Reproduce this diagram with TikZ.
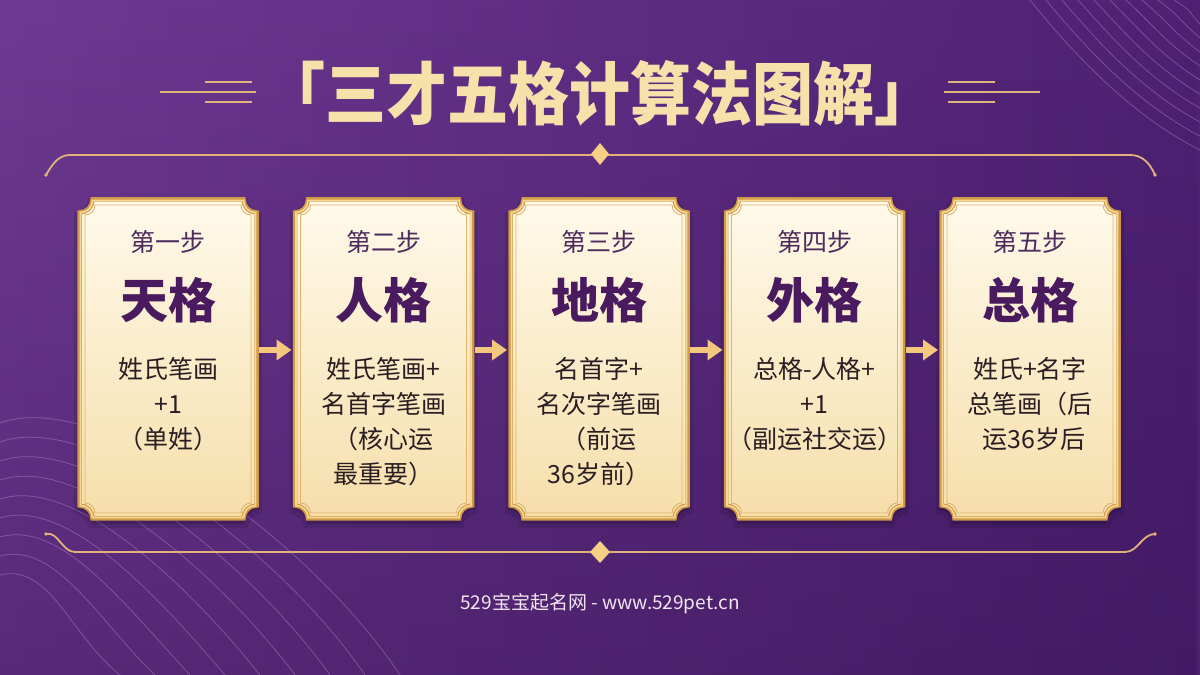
\documentclass[tikz,border=0pt]{standalone}
\usepackage{fontspec}
\setmainfont{Noto Sans CJK SC}
\usetikzlibrary{arrows.meta,fadings}
\definecolor{bgL}{HTML}{6E3A92}
\definecolor{bgR}{HTML}{4E2173}
\definecolor{bgDark}{HTML}{2E0C48}
\definecolor{wavec}{HTML}{C49AD6}
\definecolor{divc}{HTML}{E2B27C}
\definecolor{goldc}{HTML}{F5CF85}
\definecolor{titlec}{HTML}{F7E1AA}
\definecolor{cardTop}{HTML}{FFFAEB}
\definecolor{cardBot}{HTML}{F6DEAA}
\definecolor{frameDark}{HTML}{D09A48}
\definecolor{frameLight}{HTML}{F6D895}
\definecolor{frameIn}{HTML}{E0B46C}
\definecolor{stepc}{HTML}{4D2B5C}
\definecolor{bigc}{HTML}{4A1A5F}
\definecolor{descc}{HTML}{2A1E22}
\definecolor{arrowc}{HTML}{F3C77E}
\definecolor{footc}{HTML}{F2E6F0}
\newcommand{\notchpath}[3]{%
 ([shift={(#3+#2,-#2)}]#1.north west) -- ([shift={(-#3-#2,-#2)}]#1.north east)
 arc[start angle=180,end angle=270,radius=#3]
 -- ([shift={(-#2,#3+#2)}]#1.south east)
 arc[start angle=90,end angle=180,radius=#3]
 -- ([shift={(#3+#2,#2)}]#1.south west)
 arc[start angle=0,end angle=90,radius=#3]
 -- ([shift={(#2,-#3-#2)}]#1.north west)
 arc[start angle=270,end angle=360,radius=#3] -- cycle}
\newcommand{\drawcard}[1]{%
 \fill[black,opacity=0.10,transform canvas={yshift=-4pt}] \notchpath{#1}{-4}{14};
 \fill[black,opacity=0.15,transform canvas={yshift=-3pt}] \notchpath{#1}{-1}{14};
 \shade[top color=cardTop,bottom color=cardBot] \notchpath{#1}{0}{14};
 \draw[frameDark,line width=4.5pt] \notchpath{#1}{1.5}{13};
 \draw[frameLight,line width=1.6pt] \notchpath{#1}{2.5}{12};
 \draw[frameIn,line width=0.9pt] \notchpath{#1}{7}{10};
}
\tikzset{
 cardbox/.style={minimum width=180pt,minimum height=322pt,inner sep=0pt,outer sep=0pt},
 steplbl/.style={font=\fontsize{25}{28}\selectfont,text=stepc},
 biglbl/.style={font=\fontsize{48}{52}\selectfont\bfseries,text=bigc},
 desclbl/.style={font=\fontsize{25}{35}\selectfont,text=descc,align=center,anchor=north,inner sep=0pt},
 flow/.style={draw=arrowc,line width=6pt,-{Triangle[length=15pt,width=20pt]},shorten <=1pt,shorten >=2pt},
 divider/.style={draw=divc,line width=1.8pt,line cap=round},
 wave/.style={draw=wavec,line width=0.8pt,opacity=0.38},
 titleline/.style={draw=divc,line width=1.6pt},
}
\begin{document}
\begin{tikzpicture}[x=1pt,y=1pt]
\useasboundingbox (0,0) rectangle (1200,675);
% background
\shade[left color=bgL,right color=bgR] (0,0) rectangle (1200,675);
\fill[bgDark,opacity=0.35,path fading=north] (0,0) rectangle (1200,675);
% waves
\foreach \i in {0,...,9}{
 \draw[wave] (1030+16*\i,675) .. controls (1070+14*\i,625+4*\i) and (1130+6*\i,560+12*\i) .. (1200,525+14*\i);
}
\foreach \i in {0,...,8}{
 \draw[wave] (0,100+19*\i) .. controls (50+6*\i,112+22*\i) and (70+30*\i,40+12*\i) .. (120+35*\i,0);
}
% dividers
\draw[divider] (46,500) .. controls (52,510) and (58,520) .. (70,520) -- (1130,520) .. controls (1142,520) and (1150,512) .. (1155,500);
\fill[divc] (46,500) circle (1.8) (1155,500) circle (1.8);
\fill[goldc] (600,532) -- (609,521) -- (600,510) -- (591,521) -- cycle;
\draw[divider] (46,141) .. controls (58,144) and (62,123) .. (75,123) -- (1125,123) .. controls (1138,123) and (1142,141) .. (1155,141);
\fill[divc] (46,141) circle (1.8) (1155,141) circle (1.8);
\fill[goldc] (600,134) -- (610,123) -- (600,112) -- (590,123) -- cycle;
% title decorations
\draw[titleline] (205,593) -- (252,593) (160,583) -- (256,583) (205,573) -- (252,573);
\draw[titleline] (948,593) -- (995,593) (944,583) -- (1040,583) (948,573) -- (995,573);
% title
\node[text=titlec,font=\fontsize{61}{64}\selectfont\bfseries] (title) at (600,582) {\scalebox{1}[1.12]{「三才五格计算法图解」}};
% cards
\node[cardbox] (c1) at (168,316) {};
\node[cardbox] (c2) at (383.5,316) {};
\node[cardbox] (c3) at (599,316) {};
\node[cardbox] (c4) at (814.5,316) {};
\node[cardbox] (c5) at (1030,316) {};
\drawcard{c1}\drawcard{c2}\drawcard{c3}\drawcard{c4}\drawcard{c5}
% labels
\node[steplbl] (s1) at ([yshift=-44]c1.north) {第一步};
\node[steplbl] (s2) at ([yshift=-44]c2.north) {第二步};
\node[steplbl] (s3) at ([yshift=-44]c3.north) {第三步};
\node[steplbl] (s4) at ([yshift=-44]c4.north) {第四步};
\node[steplbl] (s5) at ([yshift=-44]c5.north) {第五步};
\node[biglbl] (b1) at ([yshift=-102]c1.north) {天格};
\node[biglbl] (b2) at ([yshift=-102]c2.north) {人格};
\node[biglbl] (b3) at ([yshift=-102]c3.north) {地格};
\node[biglbl] (b4) at ([yshift=-102]c4.north) {外格};
\node[biglbl] (b5) at ([yshift=-102]c5.north) {总格};
\node[desclbl] (d1) at ([yshift=-159]c1.north) {姓氏笔画\\+1\\（单姓）};
\node[desclbl] (d2) at ([yshift=-159]c2.north) {姓氏笔画+\\名首字笔画\\（核心运\\最重要）};
\node[desclbl] (d3) at ([yshift=-159]c3.north) {名首字+\\名次字笔画\\（前运\\36岁前）};
\node[desclbl] (d4) at ([yshift=-159]c4.north) {总格-人格+\\+1\\（副运社交运）};
\node[desclbl] (d5) at ([yshift=-159]c5.north) {姓氏+名字\\总笔画（后\\\hspace{8pt}运36岁后};
% arrows
\draw[flow] ([yshift=9]c1.east) -- ([yshift=9]c2.west);
\draw[flow] ([yshift=9]c2.east) -- ([yshift=9]c3.west);
\draw[flow] ([yshift=9]c3.east) -- ([yshift=9]c4.west);
\draw[flow] ([yshift=9]c4.east) -- ([yshift=9]c5.west);
% footer
\node[text=footc,font=\fontsize{19}{22}\selectfont] (foot) at (600,71) {529宝宝起名网 - www.529pet.cn};
\end{tikzpicture}
\end{document}
